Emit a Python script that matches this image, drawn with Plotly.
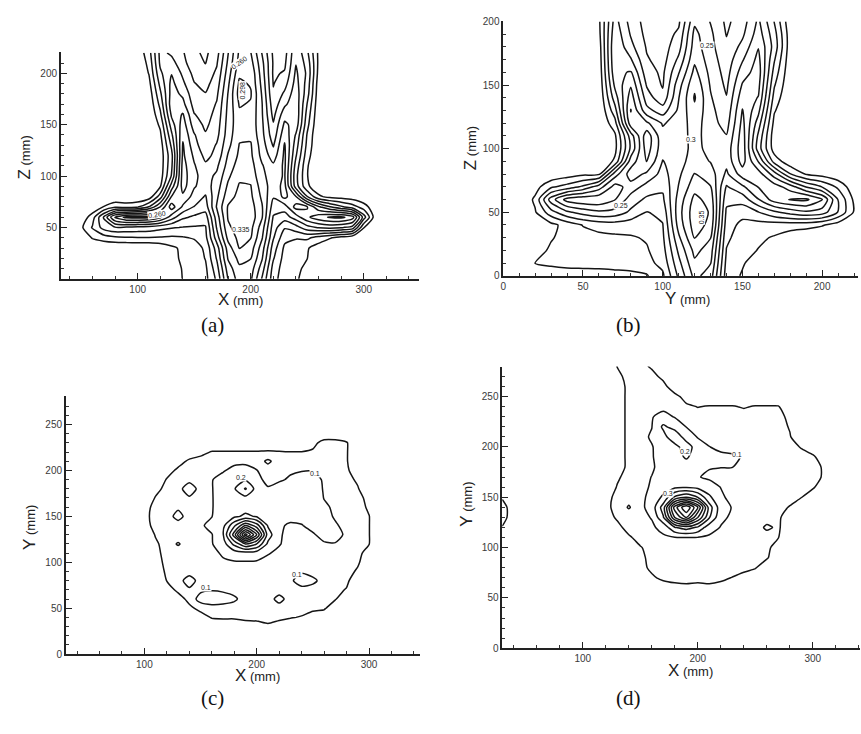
import numpy as np
import plotly.graph_objects as go

W, H = 861, 734

# ---------------- (a) X-Z section: contour band read at each grid node ----------------
A_X = list(range(30, 351, 10))
A_Z = list(range(220, -1, -10))          # rows listed from top (z=220) to bottom (z=0)
A_FIRST, A_STEP, A_LAST = 0.035, 0.0375, 0.336
A_BAND = [
    [0,0,0,0,0,0,0,0.3,1.6,4.3,3.8,3.1,2.2,1.8,2.6,4.95,7.2,7.05,4.95,2.8,2.6,4.8,3.2,0.8,0,0,0,0,0,0,0,0,0],
    [0,0,0,0,0,0,0,0.1,1.3,4.2,4.4,3.3,2.4,1.97,2.9,5.2,7.4,7.4,5.3,2.9,2.8,4.95,3.6,0.8,0,0,0,0,0,0,0,0,0],
    [0,0,0,0,0,0,0,0,1.05,3.8,4.95,3.8,2.7,2.4,3.2,5.5,7.8,7.8,5.5,2.85,3.1,5.2,3.8,0.7,0,0,0,0,0,0,0,0,0],
    [0,0,0,0,0,0,0,0,0.7,3.3,5.3,4.2,3.05,2.7,3.5,5.8,8.2,7.9,5.7,2.95,3.6,5.4,3.6,0.5,0,0,0,0,0,0,0,0,0],
    [0,0,0,0,0,0,0,0,0.4,2.8,5.4,4.8,3.3,3.05,3.8,6.05,8.4,8.1,5.9,3.1,4.2,5.6,3.4,0.4,0,0,0,0,0,0,0,0,0],
    [0,0,0,0,0,0,0,0,0.2,2.3,5.6,5.3,3.6,3.3,4.1,6.2,8.1,7.9,6.05,3.4,4.8,5.7,2.95,0.3,0,0,0,0,0,0,0,0,0],
    [0,0,0,0,0,0,0,0,0,1.8,5.2,6.1,4.05,3.6,4.3,6.3,7.8,7.8,6.1,3.7,5.6,5.8,2.6,0.2,0,0,0,0,0,0,0,0,0],
    [0,0,0,0,0,0,0,0,0,1.2,4.5,6.5,4.5,3.8,4.5,6.4,7.7,7.7,6.2,4.1,6.2,5.6,2.3,0.1,0,0,0,0,0,0,0,0,0],
    [0,0,0,0,0,0,0,0,0,0.8,3.8,6.8,5.1,4.1,4.7,6.5,7.8,7.8,6.3,4.4,6.7,4.9,1.9,0,0,0,0,0,0,0,0,0,0],
    [0,0,0,0,0,0,0,0,0,0.5,3.2,7.1,5.4,4.3,5.1,6.7,8.05,8.1,6.5,4.9,7.1,4.5,1.7,0,0,0,0,0,0,0,0,0,0],
    [0,0,0,0,0,0,0,0,0,0.4,2.7,7.2,5.8,4.7,5.3,7.1,8.2,8.2,6.7,5.5,7.2,4.1,1.4,0,0,0,0,0,0,0,0,0,0],
    [0,0,0,0,0,0,0,0,0,0.4,2.8,7.4,6.1,5.2,5.8,7.4,8.5,8.4,7.1,6.2,7.2,3.6,1.1,0,0,0,0,0,0,0,0,0,0],
    [0,0,0,0,0,0,0,0,0,0.5,3.1,7.5,6.2,5.6,6.2,7.8,8.8,8.7,7.2,6.6,7.1,3.3,1.05,0,0,0,0,0,0,0,0,0,0],
    [0,0,0,0,0,0,0,0,0,0.9,4.5,7.4,6.1,5.5,6.5,8.2,9.1,9.05,7.5,6.5,7.3,3.5,1.2,0.3,0,0,0,0,0,0,0,0,0],
    [0,0,0,0,0,0,0,0,0.4,2.5,6.05,6.8,5.6,4.9,6.8,8.6,9.3,9.2,7.8,6.1,7.3,6.05,3.05,1.2,0.7,0.6,0.4,0.1,0,0,0,0,0],
    [0,0,0,0.2,1.05,1.8,1.6,1.9,3.05,5.05,7.5,5.8,4.95,4.5,7.1,9.1,9.6,9.45,8.1,5.5,5.5,7.4,7.05,5.2,4.05,3.2,2.5,1.5,0.3,0,0,0,0],
    [0,0,0.3,1.5,4.1,7.2,8.3,8.35,8.2,7.2,5.5,4.2,3.8,3.5,6.5,9.1,9.7,9.6,8.1,4.9,4.5,5.5,6.8,7.6,8.1,8.25,7.5,3.5,0.5,0,0,0,0],
    [0,0,0.8,2.1,3.4,3.9,3.8,3.7,3.6,3.3,3.1,2.95,2.9,2.9,6.1,8.8,9.5,9.3,7.5,4.5,3.1,3.6,4.6,5.1,5.3,5.1,4.6,1.05,0.1,0,0,0,0],
    [0,0,0,1.1,1.5,1.8,1.9,1.95,1.95,1.9,1.8,1.9,2.1,2.7,5.5,8.3,9.3,9.05,7.1,4.1,2.3,2.1,2.2,1.6,1.1,0.6,0.2,0,0,0,0,0,0],
    [0,0,0,0,0,0,0,0,0,0.3,0.8,1.2,1.5,2.2,4.5,7.5,9.05,8.5,6.5,3.5,1.8,1.4,1.1,0.5,0,0,0,0,0,0,0,0,0],
    [0,0,0,0,0,0,0,0,0,0,0.5,1.3,1.4,2.05,4.1,7.1,8.3,8.05,6.1,3.1,1.6,1.3,1.02,0,0,0,0,0,0,0,0,0,0],
    [0,0,0,0,0,0,0,0,0,0,0.3,1.1,1.3,1.8,3.6,6.5,7.8,7.5,5.5,2.6,1.5,1.2,0.8,0,0,0,0,0,0,0,0,0,0],
    [0,0,0,0,0,0,0,0,0,0,0.2,1.05,1.2,1.7,3.2,6.05,7.5,7.2,4.9,2.4,1.4,1.1,0.7,0,0,0,0,0,0,0,0,0,0],
]

# ---------------- (b) Y-Z section ----------------
B_Y = list(range(0, 231, 10))
B_Z = list(range(200, -1, -10))
B_FIRST, B_STEP, B_LAST = 0.05, 0.05, 0.451
B_BAND = [
    [0,0,0,0,0,0,0.8,4.4,2.6,1.6,1.5,1.8,4.8,3.95,2.8,3.5,5.2,2.95,0.2,0,0,0,0,0],
    [0,0,0,0,0,0,0.7,4.7,2.9,1.7,1.5,2.2,5.3,4.2,2.95,3.8,5.5,3.4,0.4,0,0,0,0,0],
    [0,0,0,0,0,0,0.5,4.95,3.3,1.9,1.55,2.6,5.5,4.3,3.2,4.3,5.95,3.6,0.4,0,0,0,0,0],
    [0,0,0,0,0,0,0.4,4.9,4.1,2.1,1.6,3.2,5.8,4.5,3.4,4.9,6.3,3.1,0.3,0,0,0,0,0],
    [0,0,0,0,0,0,0.3,4.7,5.1,2.4,1.8,3.9,6.3,4.7,3.6,5.5,6.5,2.6,0.2,0,0,0,0,0],
    [0,0,0,0,0,0,0.2,4.2,5.9,2.9,1.9,4.6,6.8,4.9,3.8,6.1,6.3,2.1,0.1,0,0,0,0,0],
    [0,0,0,0,0,0,0.1,3.5,6.5,3.5,2.3,4.95,7.1,5.1,4.05,6.6,5.95,1.6,0,0,0,0,0,0],
    [0,0,0,0,0,0,0,2.6,7.05,4.3,3.5,5.2,6.8,5.3,4.3,7.05,5.3,1.1,0,0,0,0,0,0],
    [0,0,0,0,0,0,0,1.6,6.6,6.2,4.9,5.4,6.5,5.4,4.6,7.3,4.5,0.7,0,0,0,0,0,0],
    [0,0,0,0,0,0,0,0.8,4.5,7.6,5.3,5.6,6.3,5.6,5.05,7.5,3.8,0.4,0,0,0,0,0,0],
    [0,0,0,0,0,0,0,0.7,4.2,7.5,5.4,5.7,6.2,5.8,5.4,7.6,3.5,0.5,0,0,0,0,0,0],
    [0,0,0,0,0,0,0,1.2,5.5,7.05,4.95,5.6,6.5,5.95,5.3,7.4,4.95,1.6,0.3,0,0,0,0,0],
    [0,0,0,0.2,0.5,0.8,0.8,4.5,6.5,5.8,4.6,5.8,7.05,6.5,4.8,6.5,6.5,4.5,2.05,0.9,0.6,0.2,0,0],
    [0,0,0.6,1.8,2.4,3.2,4.5,6.4,5.6,4.6,4.2,6.05,7.6,7.05,3.9,4.8,6.05,6.5,5.5,3.95,2.95,1.8,0.3,0],
    [0,0,1.2,4.5,6.4,6.8,6.8,6.05,4.5,3.8,3.8,6.4,8.3,7.6,3.3,3.4,4.95,6.5,7.05,7.2,6.05,2.95,0.8,0],
    [0,0,0.9,2.6,3.8,4.4,4.8,4.6,3.8,2.95,3.3,6.6,8.6,7.9,2.8,2.4,2.95,3.8,4.4,4.8,4.5,2.95,0.9,0],
    [0,0,0.1,0.7,1.4,2.05,2.4,2.5,2.4,2.3,2.95,6.4,8.5,7.7,2.5,1.7,1.6,1.5,1.5,1.4,1.1,0.5,0,0],
    [0,0,0,0.9,1.4,1.6,1.7,1.8,1.9,2.1,2.8,5.8,8.05,7.05,2.2,1.5,1.2,0.9,0.4,0.1,0,0,0,0],
    [0,0,0.5,1.2,1.4,1.5,1.6,1.6,1.7,1.9,2.6,5.2,7.3,6.5,1.95,1.4,0.95,0.5,0,0,0,0,0,0],
    [0,0,1.05,1.2,1.3,1.35,1.4,1.45,1.5,1.7,2.3,4.7,6.8,6.05,1.7,1.1,0.5,0,0,0,0,0,0,0],
    [0,0,0.3,0.4,0.5,0.5,0.5,0.6,0.7,0.9,1.8,4.2,6.3,5.5,1.5,0.9,0.3,0,0,0,0,0,0,0],
]

# ---------------- (c) X-Y plane, concentration at each node ----------------
C_X = list(range(90, 321, 10))
C_Y = list(range(250, 19, -10))
C_CONC = [
    [0]*24,
    [0]*24,
    [0]*16 + [0.03,0.075,0.075,0.055,0,0,0,0],
    [0]*6 + [0.03,0.055,0.055,0.055,0.055,0.055,0.058,0.055,0.052,0.052,0.06,0.075,0.075,0.055] + [0]*4,
    [0]*4 + [0.02,0.065,0.075,0.075,0.075,0.075,0.075,0.075,0.11,0.075,0.075,0.075,0.075,0.075,0.075,0.055] + [0]*4,
    [0]*3 + [0.02,0.065,0.075,0.075,0.075,0.09,0.13,0.14,0.102,0.075,0.08,0.09,0.095,0.097,0.085,0.075,0.065,0] + [0]*3,
    [0]*3 + [0.055,0.075,0.08,0.075,0.095,0.14,0.17,0.19,0.115,0.085,0.09,0.11,0.14,0.13,0.09,0.075,0.07,0.04] + [0]*3,
    [0,0,0.03,0.07,0.075,0.14,0.075,0.095,0.15,0.19,0.31,0.16,0.105,0.13,0.14,0.14,0.13,0.095,0.075,0.075,0.055,0,0,0],
    [0,0,0.055,0.075,0.075,0.09,0.075,0.095,0.14,0.16,0.17,0.15,0.14,0.14,0.14,0.14,0.14,0.098,0.075,0.075,0.07,0.03,0,0],
    [0,0.02,0.075,0.075,0.09,0.075,0.075,0.095,0.14,0.15,0.16,0.15,0.14,0.14,0.14,0.14,0.14,0.11,0.09,0.075,0.075,0.04,0,0],
    [0,0.03,0.075,0.075,0.12,0.075,0.075,0.097,0.15,0.18,0.22,0.19,0.16,0.14,0.13,0.13,0.14,0.13,0.09,0.075,0.075,0.052,0,0],
    [0,0.02,0.075,0.075,0.075,0.075,0.085,0.13,0.17,0.38,0.6,0.45,0.19,0.115,0.085,0.095,0.13,0.14,0.11,0.075,0.075,0.052,0,0],
    [0,0,0.055,0.075,0.075,0.075,0.075,0.095,0.19,0.55,1.05,0.7,0.25,0.11,0.075,0.075,0.09,0.13,0.13,0.085,0.075,0.052,0,0],
    [0,0,0.04,0.075,0.105,0.075,0.075,0.095,0.15,0.33,0.5,0.4,0.18,0.105,0.075,0.075,0.075,0.09,0.095,0.075,0.075,0.052,0,0],
    [0,0,0.03,0.075,0.075,0.075,0.075,0.08,0.11,0.15,0.16,0.15,0.105,0.085,0.075,0.075,0.075,0.075,0.075,0.075,0.07,0.02,0,0],
    [0,0,0.02,0.07,0.075,0.075,0.075,0.075,0.09,0.092,0.092,0.09,0.08,0.075,0.075,0.075,0.075,0.075,0.075,0.075,0.06,0,0,0],
    [0,0,0,0.065,0.075,0.075,0.075,0.075,0.075,0.075,0.075,0.075,0.075,0.075,0.075,0.09,0.075,0.075,0.075,0.075,0.04,0,0,0],
    [0,0,0,0.052,0.075,0.13,0.075,0.08,0.075,0.075,0.075,0.075,0.075,0.075,0.085,0.14,0.115,0.075,0.075,0.065,0,0,0,0],
    [0,0,0,0.02,0.065,0.09,0.09,0.095,0.09,0.08,0.075,0.075,0.075,0.075,0.075,0.075,0.075,0.075,0.07,0.045,0,0,0,0],
    [0,0,0,0,0.02,0.07,0.12,0.14,0.13,0.11,0.075,0.075,0.075,0.12,0.075,0.075,0.075,0.075,0.055,0,0,0,0,0],
    [0,0,0,0,0,0.035,0.07,0.075,0.075,0.075,0.075,0.075,0.075,0.075,0.075,0.075,0.075,0.06,0,0,0,0,0,0],
    [0,0,0,0,0,0,0.02,0.055,0.06,0.06,0.06,0.06,0.06,0.06,0.055,0.045,0,0,0,0,0,0,0,0],
    [0,0,0,0,0,0,0,0,0,0,0.03,0.035,0.045,0.03,0,0,0,0,0,0,0,0,0,0],
    [0]*24,
]

# ---------------- (d) X-Y plane ----------------
D_X = list(range(30, 321, 10))
D_Y = list(range(290, 49, -10))
D_CONC = [
    [0]*10 + [0.045,0.075,0.06,0.02] + [0]*16,
    [0]*10 + [0.052,0.075,0.075,0.04] + [0]*16,
    [0]*10 + [0.03,0.075,0.075,0.075,0.03] + [0]*15,
    [0]*11 + [0.075]*4 + [0]*15,
    [0]*11 + [0.075]*5 + [0.02] + [0]*13,
    [0]*11 + [0.075,0.075,0.095,0.075,0.075,0.065,0.048,0.055,0.055,0.055,0.045,0.055,0.055,0.055] + [0]*5,
    [0]*11 + [0.075,0.075,0.095,0.13,0.095] + [0.075]*9 + [0.03] + [0]*4,
    [0]*11 + [0.075,0.075,0.098,0.22,0.16,0.098] + [0.075]*8 + [0.045] + [0]*4,
    [0]*11 + [0.075,0.075,0.11,0.16,0.28,0.15,0.095] + [0.075]*7 + [0.055] + [0]*4,
    [0]*11 + [0.075,0.075,0.095,0.14,0.16,0.26,0.14,0.102,0.08,0.08,0.075,0.075,0.075,0.075,0.075,0.045] + [0]*3,
    [0]*11 + [0.075,0.075,0.095,0.13,0.15,0.215,0.14,0.13,0.12,0.11,0.095,0.075,0.075,0.075,0.08,0.075,0.065] + [0]*2,
    [0]*11 + [0.075,0.075,0.09,0.13,0.14,0.14,0.12,0.105,0.102,0.101] + [0.075]*7 + [0.04,0],
    [0]*10 + [0.04,0.075,0.075,0.102,0.13,0.13,0.13,0.105,0.085] + [0.075]*9 + [0.04,0],
    [0]*10 + [0.055,0.075,0.075,0.11,0.15,0.18,0.19,0.17,0.14,0.098] + [0.075]*7 + [0.06,0,0],
    [0.04] + [0]*8 + [0.02,0.075,0.085,0.075,0.13,0.22,0.42,0.5,0.4,0.22,0.115] + [0.075]*6 + [0.052,0,0,0],
    [0.085] + [0]*8 + [0.03,0.075,0.104,0.075,0.14,0.35,0.85,1.1,0.8,0.35,0.14,0.095] + [0.075]*4 + [0.045,0,0,0,0],
    [0.085] + [0]*8 + [0.02,0.06,0.075,0.075,0.105,0.29,0.7,0.9,0.6,0.31,0.12,0.085,0.075,0.075,0.075,0.065] + [0]*5,
    [0.045] + [0]*9 + [0.03,0.075,0.075,0.085,0.13,0.29,0.35,0.28,0.14,0.095,0.075,0.075,0.075,0.04,0.06] + [0]*5,
    [0]*11 + [0.04,0.075,0.075,0.085,0.095,0.098,0.095,0.085,0.075,0.075,0.075,0.075,0.075,0.052] + [0]*5,
    [0]*12 + [0.045] + [0.075]*11 + [0]*6,
    [0]*12 + [0.03] + [0.075]*10 + [0.058] + [0]*6,
    [0]*12 + [0.02,0.07] + [0.075]*8 + [0.055] + [0]*7,
    [0]*13 + [0.035,0.07,0.07,0.065,0.065,0.065,0.062,0.048] + [0.02] + [0]*8,
    [0]*15 + [0.03,0.04,0.035,0.04,0.03] + [0]*10,
    [0]*30,
]
# contour levels used in the two X-Y planes
XY_LOW = (0.05, 0.1, 0.05)
XY_HIGH = (0.2, 1.0, 0.1)

# value labels written on the contour lines: (text, x, y, angle)
A_TAGS = [("0.260", 117, 63, -8), ("0.335", 191, 48, 0), ("0.260", 190, 211, -35), ("0.298", 193, 183, -90)]
B_TAGS = [("0.25", 128, 181, 0), ("0.3", 118, 107, 0), ("0.25", 74, 55, 0), ("0.35", 124, 46, -90)]
C_TAGS = [("0.2", 186, 192, 0), ("0.1", 252, 197, 0), ("0.1", 155, 73, 0), ("0.1", 236, 87, 0)]
D_TAGS = [("0.2", 189, 196, 0), ("0.1", 234, 193, 0), ("0.3", 174, 154, 0)]

LINE = dict(color="#151515", width=1.5, smoothing=0.65)


def grid(rows, ys):
    arr = np.array(rows, dtype=float)
    ys = np.array(ys)
    order = np.argsort(ys)
    return arr[order], ys[order]


fig = go.Figure()


def add_contour(xs, ys, vals, start, end, size, ax):
    fig.add_trace(go.Contour(
        x=xs, y=ys, z=vals, xaxis="x" + ax, yaxis="y" + ax,
        contours=dict(coloring="none", start=start, end=end, size=size, showlabels=False),
        line=LINE, showscale=False, hoverinfo="skip"))


za, ya = grid(A_BAND, A_Z)
add_contour(A_X, ya, A_FIRST + A_STEP * (za - 1.0), A_FIRST, A_LAST, A_STEP, "")
zb, yb = grid(B_BAND, B_Z)
add_contour(B_Y, yb, B_FIRST + B_STEP * (zb - 1.0), B_FIRST, B_LAST, B_STEP, "2")
zc, yc = grid(C_CONC, C_Y)
add_contour(C_X, yc, zc, *XY_LOW, "3")
add_contour(C_X, yc, zc, *XY_HIGH, "3")
zd, yd = grid(D_CONC, D_Y)
add_contour(D_X, yd, zd, *XY_LOW, "4")
add_contour(D_X, yd, zd, *XY_HIGH, "4")

TICKFONT = dict(family="Liberation Sans, Arial, sans-serif", size=10, color="#3a3a3a")


def axis(domain, rng, anchor, tickvals, minor_step):
    return dict(domain=domain, range=rng, anchor=anchor, showgrid=False, zeroline=False,
                showline=True, linecolor="#222", linewidth=1.5, mirror=False,
                tickmode="array", tickvals=tickvals, ticks="inside", ticklen=6,
                tickwidth=1.3, tickcolor="#222", tickfont=TICKFONT,
                minor=dict(tickmode="linear", tick0=0, dtick=minor_step, ticks="inside",
                           ticklen=3, tickwidth=1.1, tickcolor="#333"))


def dom_x(p0, p1):
    return [p0 / W, p1 / W]


def dom_y(top, bottom):
    return [1 - bottom / H, 1 - top / H]


fig.update_layout(
    width=W, height=H, margin=dict(l=0, r=0, t=0, b=0),
    paper_bgcolor="white", plot_bgcolor="white", showlegend=False,
    xaxis=axis(dom_x(58, 417), [32, 348.5], "y", [100, 200, 300], 20),
    yaxis=axis(dom_y(48, 278), [0, 220.5], "x", [50, 100, 150, 200], 10),
    xaxis2=axis(dom_x(502, 858), [0, 222.5], "y2", [0, 50, 100, 150, 200], 10),
    yaxis2=axis(dom_y(16, 275), [0, 200.5], "x2", [0, 50, 100, 150, 200], 10),
    xaxis3=axis(dom_x(63, 418), [30, 345], "y3", [100, 200, 300], 20),
    yaxis3=axis(dom_y(397, 659), [0, 281], "x3", [0, 50, 100, 150, 200, 250], 10),
    xaxis4=axis(dom_x(501, 860), [30, 341], "y4", [100, 200, 300], 20),
    yaxis4=axis(dom_y(367, 653), [0, 280], "x4", [0, 50, 100, 150, 200, 250], 10),
)

ann = []
for tags, ax in ((A_TAGS, ""), (B_TAGS, "2"), (C_TAGS, "3"), (D_TAGS, "4")):
    for text, x, y, ang in tags:
        ann.append(dict(text=text, x=x, y=y, xref="x" + ax, yref="y" + ax, showarrow=False,
                        textangle=ang, bgcolor="white", borderpad=0,
                        font=dict(family="Liberation Sans, Arial, sans-serif", size=7, color="#222")))

TITLE_FONT = dict(family="Liberation Sans, Arial, sans-serif", size=13, color="#222")


def title(letter, px, py, angle=0):
    ann.append(dict(text="<span style='font-size:17px'>%s</span> (mm)" % letter,
                    x=px / W, y=1 - py / H, xref="paper", yref="paper", showarrow=False,
                    textangle=angle, xanchor="center", yanchor="middle", font=TITLE_FONT))


title("X", 238, 299)
title("Z", 22, 155, -90)
title("Y", 687, 298)
title("Z", 469, 145, -90)
title("X", 255, 681)
title("Y", 26, 530, -90)
title("X", 690, 676)
title("Y", 465, 507, -90)

for cap, px, py in (("(a)", 210, 325), ("(b)", 628, 325), ("(c)", 210, 704), ("(d)", 628, 704)):
    ann.append(dict(text=cap, x=px / W, y=1 - py / H, xref="paper", yref="paper", showarrow=False,
                    xanchor="center", yanchor="middle",
                    font=dict(family="Liberation Serif, DejaVu Serif, serif", size=21, color="#111")))

fig.update_layout(annotations=ann)
fig.write_html("out.html")
